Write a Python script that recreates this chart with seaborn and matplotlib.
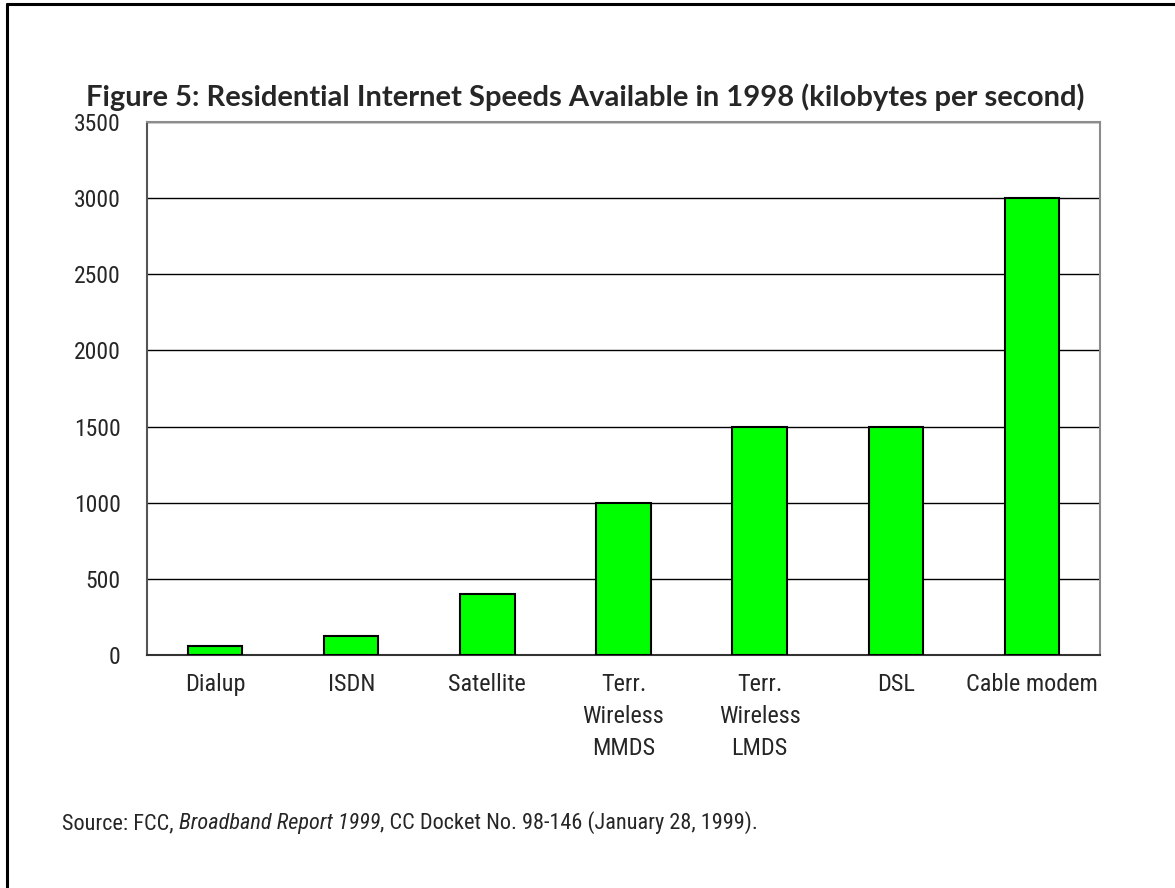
import matplotlib
matplotlib.use("Agg")
import matplotlib.pyplot as plt
from matplotlib.lines import Line2D
import seaborn as sns
import pandas as pd

categories = ["Dialup", "ISDN", "Satellite", "Terr.\nWireless\nMMDS",
              "Terr.\nWireless\nLMDS", "DSL", "Cable modem"]
speeds = [56, 128, 400, 1000, 1500, 1500, 3000]
y_ticks = [0, 500, 1000, 1500, 2000, 2500, 3000, 3500]

title = "Figure 5: Residential Internet Speeds Available in 1998 (kilobytes per second)"
source_parts = ["Source: FCC, ", "Broadband Report 1999",
                ", CC Docket No. 98-146 (January 28, 1999)."]

sns.set_theme(style="white")
plt.rcParams["font.family"] = ["Roboto Condensed", "TeX Gyre Heros Cn", "DejaVu Sans"]

df = pd.DataFrame({"category": categories, "speed": speeds})

fig = plt.figure(figsize=(11.75, 8.88), dpi=100)
ax = fig.add_axes([147 / 1175, 1 - 655 / 888, (1100 - 147) / 1175, (655 - 122) / 888])

sns.barplot(data=df, x="category", y="speed", ax=ax, color="#00ff00",
            saturation=1, width=0.4, edgecolor="black", linewidth=1.5, zorder=3)

ax.set_ylim(0, 3500)
ax.set_xlim(-0.5, len(categories) - 0.5)
ax.set_yticks(y_ticks)
ax.set_yticklabels([str(v) for v in y_ticks], fontsize=17)
ax.tick_params(axis="y", length=0, pad=19)
ax.yaxis.grid(True, color="black", linewidth=1.0, zorder=0)
ax.set_axisbelow(True)

# category labels centred on bars, tick marks on the boundaries between them
ax.set_xticks(range(len(categories)))
ax.set_xticklabels(categories, fontsize=17.5, linespacing=1.5)
ax.tick_params(axis="x", which="major", length=0, pad=13)
ax.set_xticks([i - 0.5 for i in range(len(categories) + 1)], minor=True)
ax.tick_params(axis="x", which="minor", length=6, width=1.2, color="#333333",
               direction="out")
for lbl in ax.get_xticklabels():
    lbl.set_verticalalignment("top")

ax.set_xlabel("")
ax.set_ylabel("")
for side in ["top", "right"]:
    ax.spines[side].set_visible(True)
    ax.spines[side].set_color("#8c8c8c")
    ax.spines[side].set_linewidth(1.5)
ax.spines["left"].set_color("#555555")
ax.spines["left"].set_linewidth(1.5)
ax.spines["bottom"].set_color("#333333")
ax.spines["bottom"].set_linewidth(1.5)

fig.text(585 / 1175, 1 - 97 / 888, title, ha="center", va="center",
         fontsize=21, fontweight="bold", family=["Lato", "DejaVu Sans"])

# source note with italic report title
t1 = fig.text(62 / 1175, 1 - 829 / 888, source_parts[0], fontsize=16,
              ha="left", va="baseline")
t2 = ax.annotate(source_parts[1], xy=(1, 0), xycoords=t1, fontsize=16,
                 style="italic", ha="left", va="bottom", annotation_clip=False)
t3 = ax.annotate(source_parts[2], xy=(1, 0), xycoords=t2, fontsize=16,
                 ha="left", va="bottom", annotation_clip=False)

# page frame on the left and top edges
fig.add_artist(Line2D([7 / 1175, 7 / 1175], [0, 1 - 4 / 888], color="black",
                      linewidth=2.2, transform=fig.transFigure))
fig.add_artist(Line2D([7 / 1175, 1], [1 - 4 / 888, 1 - 4 / 888], color="black",
                      linewidth=2.2, transform=fig.transFigure))

fig.savefig("out.png", dpi=100, facecolor="white")
